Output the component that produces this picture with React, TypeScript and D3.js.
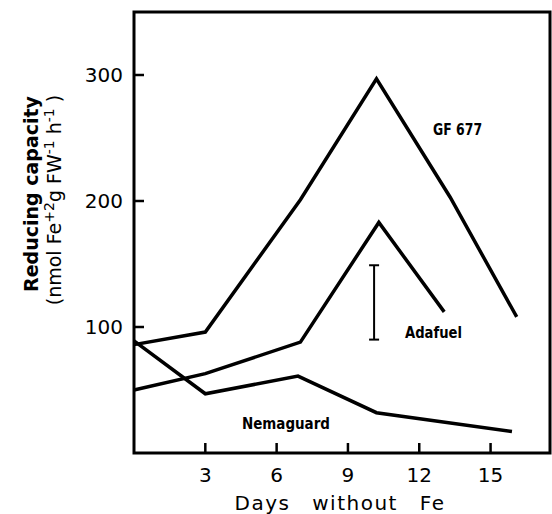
import React from "react";
import * as d3 from "d3";

const W = 552;
const H = 514;

const xTicks = [3, 6, 9, 12, 15];
const yTicks = [100, 200, 300];

const gfDays = [0, 3, 7, 10.2, 13.3, 16.1];
const gfValues = [86, 96, 201, 297, 203, 108];

const adaDays = [0, 3, 7, 10.3, 13.05];
const adaValues = [50, 63, 88, 183, 112];

const nemDays = [0, 3, 6.9, 10.2, 15.9];
const nemValues = [89, 47, 61, 32, 17];

const errDay = 10.1;
const errLow = 90;
const errHigh = 149;

const seriesNames = ["GF 677", "Adafuel", "Nemaguard"];

export default function App() {
  const x = d3.scaleLinear().domain([0, 17.5]).range([134, 550]);
  const y = d3.scaleLinear().domain([0, 350]).range([453, 12]);

  const line = d3
    .line<[number, number]>()
    .x((d) => x(d[0]))
    .y((d) => y(d[1]));

  const series = [
    { days: gfDays, values: gfValues },
    { days: adaDays, values: adaValues },
    { days: nemDays, values: nemValues },
  ];

  const labelPos = [
    { day: 12.58, val: 252, w: 49 },
    { day: 11.4, val: 91, w: 57 },
    { day: 4.54, val: 19, w: 88 },
  ];

  const font = "'DejaVu Sans', sans-serif";

  return (
    <svg
      width={W}
      height={H}
      style={{ position: "absolute", left: 0, top: 0, background: "#fff" }}
      fontFamily={font}
    >
      {/* frame */}
      <rect
        x={x(0)}
        y={y(350)}
        width={x(17.5) - x(0)}
        height={y(0) - y(350)}
        fill="none"
        stroke="#000"
        strokeWidth={3}
      />
      {/* y ticks */}
      {yTicks.map((t) => (
        <g key={"y" + t}>
          <line x1={x(0)} x2={x(0) + 10} y1={y(t)} y2={y(t)} stroke="#000" strokeWidth={2.5} />
          <text x={123} y={y(t)} dy="0.36em" textAnchor="end" fontSize={20}>
            {t}
          </text>
        </g>
      ))}
      {/* x ticks */}
      {xTicks.map((t) => (
        <g key={"x" + t}>
          <line x1={x(t)} x2={x(t)} y1={y(0)} y2={y(0) - 10} stroke="#000" strokeWidth={2.5} />
          <text x={x(t)} y={482} textAnchor="middle" fontSize={20}>
            {t}
          </text>
        </g>
      ))}
      {/* axis titles */}
      <text x={340} y={510} textAnchor="middle" fontSize={20} letterSpacing={1.5} wordSpacing={14}>
        Days without Fe
      </text>
      <text
        transform={`translate(38, 194) rotate(-90)`}
        textAnchor="middle"
        fontSize={19}
        fontWeight="bold"
      >
        Reducing capacity
      </text>
      <text
        transform={`translate(61, 200) rotate(-90)`}
        textAnchor="middle"
        fontSize={19}
      >
        (nmol Fe
        <tspan dy={-7} fontSize={14}>+2</tspan>
        <tspan dy={7}>g FW</tspan>
        <tspan dy={-7} fontSize={14}>-1</tspan>
        <tspan dy={7}> h</tspan>
        <tspan dy={-7} fontSize={14}>-1</tspan>
        <tspan dy={7}> )</tspan>
      </text>
      {/* lines */}
      {series.map((s, i) => (
        <path
          key={i}
          d={line(s.days.map((d, j) => [d, s.values[j]] as [number, number])) || ""}
          fill="none"
          stroke="#000"
          strokeWidth={3.5}
          strokeLinejoin="miter"
        />
      ))}
      {/* error bar */}
      <g stroke="#000" strokeWidth={2}>
        <line x1={x(errDay)} x2={x(errDay)} y1={y(errLow)} y2={y(errHigh)} />
        <line x1={x(errDay) - 5} x2={x(errDay) + 5} y1={y(errLow)} y2={y(errLow)} />
        <line x1={x(errDay) - 5} x2={x(errDay) + 5} y1={y(errHigh)} y2={y(errHigh)} />
      </g>
      {/* series labels */}
      {seriesNames.map((n, i) => (
        <text
          key={n}
          x={x(labelPos[i].day)}
          y={y(labelPos[i].val)}
          fontSize={16}
          fontWeight="bold"
          textLength={labelPos[i].w}
          lengthAdjust="spacingAndGlyphs"
        >
          {n}
        </text>
      ))}
    </svg>
  );
}
